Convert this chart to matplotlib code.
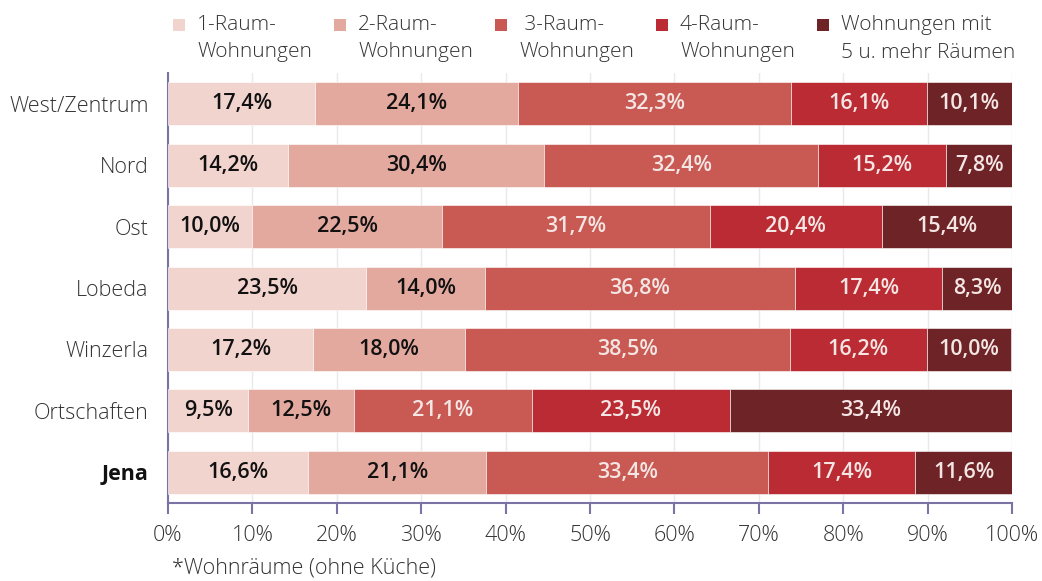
import numpy as np
import matplotlib.pyplot as plt
from matplotlib.patches import Rectangle

plt.rcParams['font.family'] = ['Open Sans', 'DejaVu Sans']

districts = ["West/Zentrum", "Nord", "Ost", "Lobeda", "Winzerla", "Ortschaften", "Jena"]
series_names = ["1-Raum-\nWohnungen", "2-Raum-\nWohnungen", " 3-Raum-\nWohnungen",
                "4-Raum-\nWohnungen", "Wohnungen mit\n5 u. mehr Räumen"]
raum1 = [17.4, 14.2, 10.0, 23.5, 17.2, 9.5, 16.6]
raum2 = [24.1, 30.4, 22.5, 14.0, 18.0, 12.5, 21.1]
raum3 = [32.3, 32.4, 31.7, 36.8, 38.5, 21.1, 33.4]
raum4 = [16.1, 15.2, 20.4, 17.4, 16.2, 23.5, 17.4]
raum5 = [10.1, 7.8, 15.4, 8.3, 10.0, 33.4, 11.6]

colors = ["#f2d4cf", "#e3a99f", "#c95a53", "#bb2b33", "#6e2427"]
label_colors = ["#111111", "#111111", "#f3e6e4", "#f3e6e4", "#f3e6e4"]
axis_col = "#7b72a6"
W, H = 1042, 581

fig = plt.figure(figsize=(W / 100, H / 100), dpi=100)
ax = fig.add_axes([168 / W, 1 - 503 / H, 844 / W, 430 / H])

y = np.arange(len(districts))
left = np.zeros(len(districts))
for vals, col, lcol in zip([raum1, raum2, raum3, raum4, raum5], colors, label_colors):
    vals = np.array(vals)
    ax.barh(y, vals, left=left, height=0.7, color=col, edgecolor="white", linewidth=0.4, zorder=3)
    for yi, (l, v) in enumerate(zip(left, vals)):
        ax.text(l + v / 2, yi, f"{v:.1f}%".replace(".", ","), ha="center", va="center",
                fontsize=15.5, fontweight="semibold", color=lcol, zorder=4)
    left += vals

ax.set_xlim(0, 100)
ax.set_ylim(len(districts) - 0.5, -0.5)
ax.set_yticks(y)
ax.set_yticklabels(districts)
for lab in ax.get_yticklabels():
    lab.set_fontsize(15.5)
    lab.set_color("#333333")
    lab.set_fontweight("light")
    if lab.get_text() == "Jena":
        lab.set_fontweight("bold")
        lab.set_color("#111111")
ax.tick_params(axis="y", length=0, pad=14)
ax.set_xticks(np.arange(0, 101, 10))
ax.set_xticklabels([f"{v}%" for v in range(0, 101, 10)], fontsize=15.5, color="#333333", fontweight="light")
ax.tick_params(axis="x", length=8, width=1.5, color=axis_col, pad=8)
ax.grid(axis="x", color="#e8e8ee", linewidth=1, zorder=0)

for s in ["top", "right"]:
    ax.spines[s].set_visible(False)
for s in ["left", "bottom"]:
    ax.spines[s].set_color(axis_col)
    ax.spines[s].set_linewidth(1.5)

# legend drawn by hand so the squares line up with the first text line
for i, (name, col) in enumerate(zip(series_names, colors)):
    x0 = 173 + 161 * i
    fig.patches.append(Rectangle((x0 / W, 1 - 31 / H), 12 / W, 12 / H, transform=fig.transFigure,
                                 facecolor=col, edgecolor="none"))
    fig.text((x0 + 24) / W, 1 - 15 / H, name, fontsize=15, fontweight="light", color="#333333",
             va="top", ha="left", linespacing=1.5)

fig.text(172 / W, 1 - 568 / H, "*Wohnräume (ohne Küche)", fontsize=15.5, color="#333333",
         fontweight="light", va="center")

fig.savefig("out.png", dpi=100)
